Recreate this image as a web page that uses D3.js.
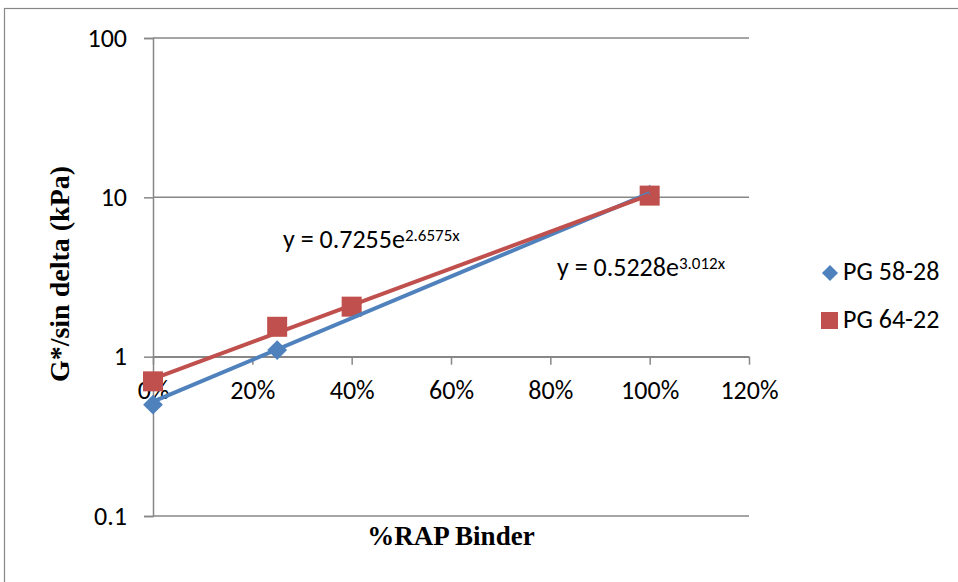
<!DOCTYPE html>
<html>
<head>
<meta charset="utf-8">
<script src="https://cdn.jsdelivr.net/npm/d3@7"></script>
<style>
  html, body { margin: 0; padding: 0; background: #fff; }
  #chart { width: 958px; height: 582px; overflow: hidden; }
</style>
</head>
<body>
<div id="chart"></div>
<script>
// tick values
const X_TICKS = [0, 0.2, 0.4, 0.6, 0.8, 1.0, 1.2];
const Y_TICKS = [0.1, 1, 10, 100];

// series (x = fraction of RAP binder)
const SERIES_NAMES = ["PG 58-28", "PG 64-22"];
const PG5828_X = [0, 0.25, 1.0];
const PG5828_Y = [0.5, 1.1, 10.4];
const PG6422_X = [0, 0.25, 0.4, 1.0];
const PG6422_Y = [0.7, 1.54, 2.06, 10.25];

// exponential trendlines y = a * e^(b x), as printed on the chart
const TREND_A = [0.5228, 0.7255];
const TREND_B = [3.012, 2.6575];
const TREND_TEXT = [["y = 0.5228e", "3.012x"], ["y = 0.7255e", "2.6575x"]];

const COLORS = ["#4f81bd", "#c0504d"];
const GRID = "#878787";
const LABEL_FONT = "Carlito, Lato, sans-serif";
const TITLE_FONT = "'Liberation Serif', 'Times New Roman', serif";
const LABEL_SIZE = "26px";

const svg = d3.select("#chart")
  .append("svg")
  .attr("width", 958)
  .attr("height", 582);

// chart area border
svg.append("rect")
  .attr("x", 4.5).attr("y", 8.5)
  .attr("width", 1000).attr("height", 600)
  .attr("fill", "none")
  .attr("stroke", GRID)
  .attr("stroke-width", 1.2);

const x = d3.scaleLinear().domain([0, 1.2]).range([153, 749]);
const y = d3.scaleLog().domain([0.1, 100]).range([516, 38]);

// horizontal gridlines
svg.append("g")
  .selectAll("line")
  .data(Y_TICKS)
  .enter()
  .append("line")
  .attr("x1", x(0)).attr("x2", x(1.2))
  .attr("y1", d => y(d)).attr("y2", d => y(d))
  .attr("stroke", GRID)
  .attr("stroke-width", 1.5);

// y axis
const yAxis = svg.append("g")
  .attr("transform", `translate(${x(0)},0)`)
  .call(d3.axisLeft(y).tickValues(Y_TICKS).tickSize(9).tickPadding(17)
    .tickFormat(d => d3.format("~g")(d)));
yAxis.select(".domain").attr("stroke", GRID).attr("stroke-width", 1.5);
yAxis.selectAll(".tick line").attr("stroke", GRID).attr("stroke-width", 1.5);
yAxis.selectAll("text")
  .attr("font-family", LABEL_FONT)
  .attr("font-size", LABEL_SIZE)
  .attr("fill", "#000");

// x axis crossing at y = 1
const xAxis = svg.append("g")
  .attr("transform", `translate(0,${y(1)})`)
  .call(d3.axisBottom(x).tickValues(X_TICKS).tickSize(8).tickSizeOuter(0).tickPadding(16)
    .tickFormat(d3.format(".0%")));
xAxis.select(".domain").attr("stroke", GRID).attr("stroke-width", 1.5);
xAxis.selectAll(".tick line").attr("stroke", GRID).attr("stroke-width", 1.5);
xAxis.selectAll("text")
  .attr("font-family", LABEL_FONT)
  .attr("font-size", LABEL_SIZE)
  .attr("fill", "#000");

// markers
const pts58 = PG5828_X.map((v, i) => ({ x: v, y: PG5828_Y[i] }));
const pts64 = PG6422_X.map((v, i) => ({ x: v, y: PG6422_Y[i] }));

svg.append("g")
  .selectAll("path")
  .data(pts58)
  .enter()
  .append("path")
  .attr("d", d3.symbol(d3.symbolDiamond2, 250))
  .attr("transform", d => `translate(${x(d.x)},${y(d.y)})`)
  .attr("fill", COLORS[0]);

svg.append("g")
  .selectAll("rect")
  .data(pts64)
  .enter()
  .append("rect")
  .attr("x", d => x(d.x) - 10)
  .attr("y", d => y(d.y) - 10)
  .attr("width", 20)
  .attr("height", 20)
  .attr("fill", COLORS[1]);

// trendlines, straight on a log axis so two ends are enough
[0, 1].forEach(i => {
  const ends = [0, 1].map(t => ({ x: t, y: TREND_A[i] * Math.exp(TREND_B[i] * t) }));
  svg.append("path")
    .datum(ends)
    .attr("d", d3.line().x(d => x(d.x)).y(d => y(d.y)))
    .attr("fill", "none")
    .attr("stroke", COLORS[i])
    .attr("stroke-width", 4);
});

// trendline equations
const eqPos = [[557, 276], [283, 248]];
TREND_TEXT.forEach((t, i) => {
  const txt = svg.append("text")
    .attr("x", eqPos[i][0])
    .attr("y", eqPos[i][1])
    .attr("font-family", LABEL_FONT)
    .attr("font-size", LABEL_SIZE)
    .attr("fill", "#000");
  txt.append("tspan").text(t[0]);
  txt.append("tspan")
    .attr("dy", -7)
    .attr("font-size", "17px")
    .text(t[1]);
});

// axis titles
svg.append("text")
  .attr("transform", "translate(69,274) rotate(-90)")
  .attr("text-anchor", "middle")
  .attr("font-family", TITLE_FONT)
  .attr("font-weight", "bold")
  .attr("font-size", "28px")
  .text("G*/sin delta (kPa)");

svg.append("text")
  .attr("x", 451)
  .attr("y", 545)
  .attr("text-anchor", "middle")
  .attr("font-family", TITLE_FONT)
  .attr("font-weight", "bold")
  .attr("font-size", "27px")
  .text("%RAP Binder");

// legend
const legend = svg.append("g");
legend.append("path")
  .attr("d", d3.symbol(d3.symbolDiamond2, 165))
  .attr("transform", "translate(830,273)")
  .attr("fill", COLORS[0]);
legend.append("rect")
  .attr("x", 821).attr("y", 312)
  .attr("width", 17).attr("height", 17)
  .attr("fill", COLORS[1]);
SERIES_NAMES.forEach((name, i) => {
  legend.append("text")
    .attr("x", 843)
    .attr("y", 280 + i * 48)
    .attr("font-family", LABEL_FONT)
    .attr("font-size", LABEL_SIZE)
    .attr("fill", "#000")
    .text(name);
});
</script>
</body>
</html>
